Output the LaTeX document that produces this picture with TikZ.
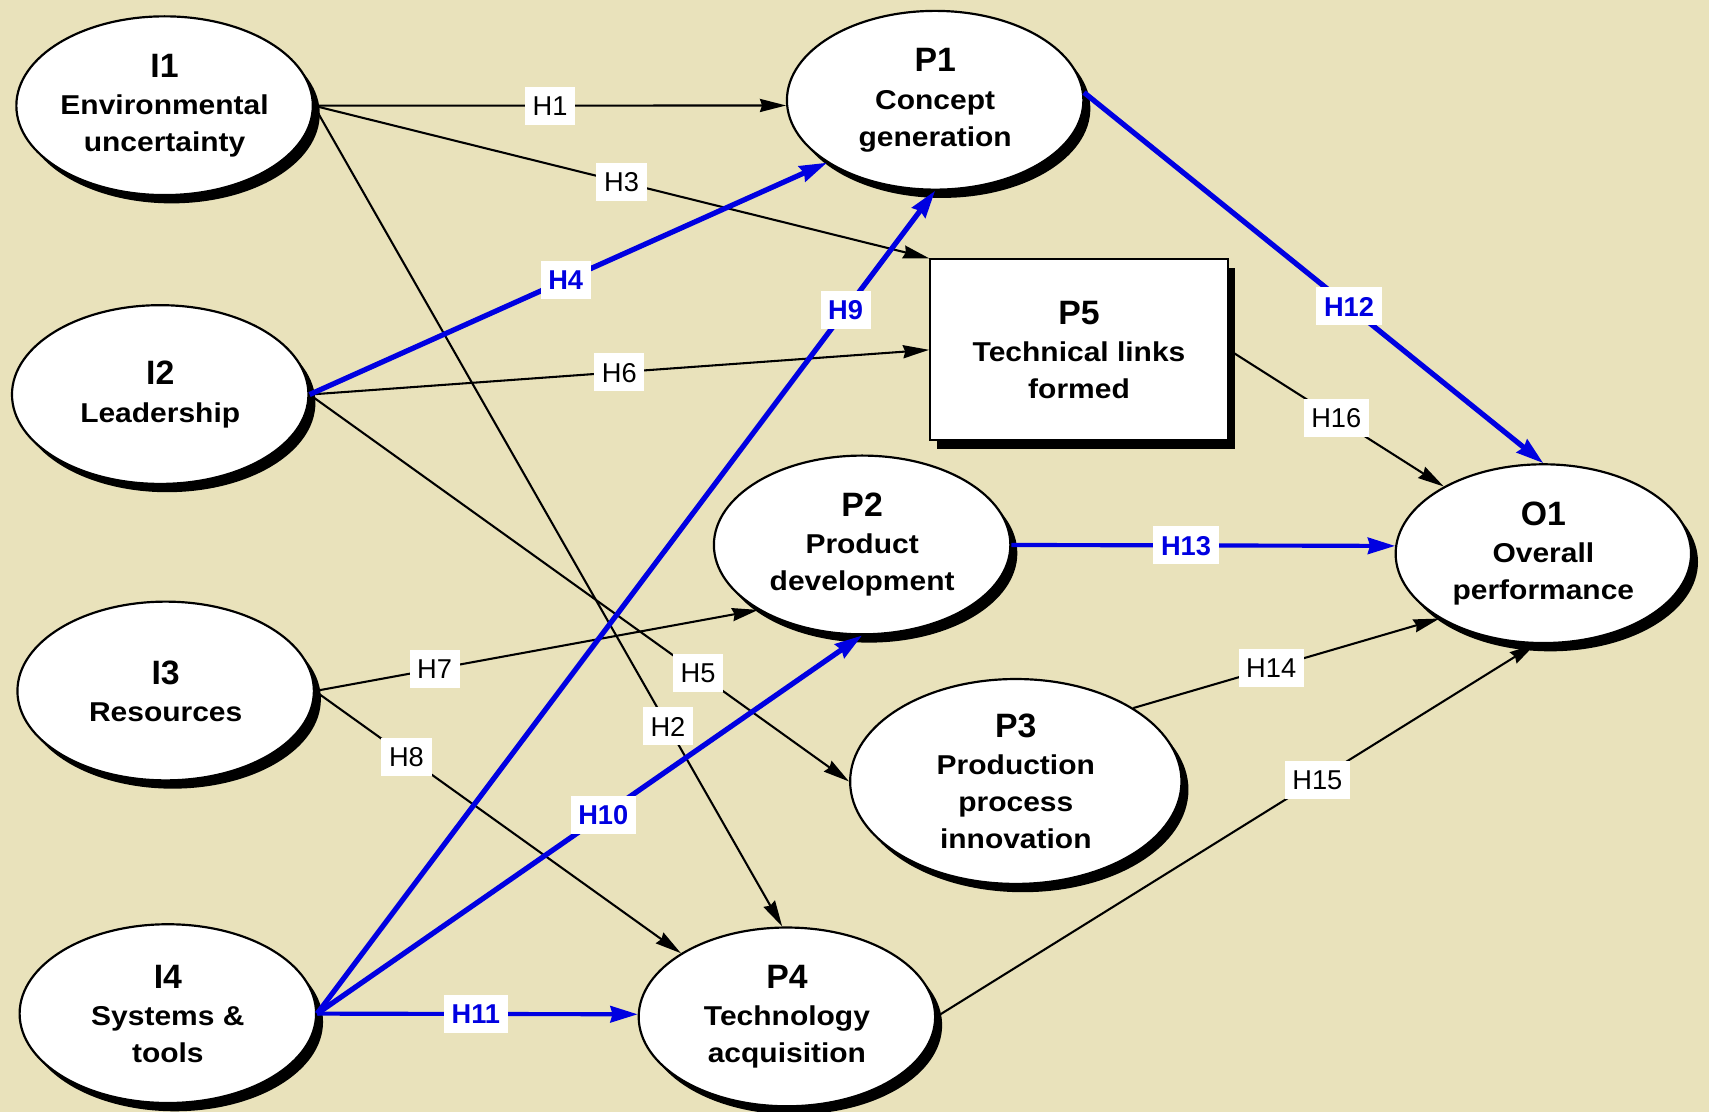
\documentclass[tikz,border=0pt]{standalone}
\usepackage{fontspec}
\setmainfont{Liberation Sans}
\newfontfamily\widefont[FakeStretch=1.1]{Liberation Sans}
\newfontfamily\plainfont{Liberation Sans}
\usetikzlibrary{shapes.geometric,arrows.meta,shadows}
\definecolor{paper}{RGB}{233,226,187}
\definecolor{hblue}{RGB}{0,0,225}

\tikzset{
  shadowed/.style={drop shadow={shadow xshift=3.2pt, shadow yshift=-3.8pt, fill=black, opacity=1}},
  construct/.style={ellipse, draw=black, line width=1pt, fill=white, inner sep=0pt,
    align=center, font=\widefont\bfseries\fontsize{12.5}{17}\selectfont, shadowed,
    minimum width=136pt, minimum height=82pt},
  boxconstruct/.style={rectangle, draw=black, line width=1pt, fill=white, inner sep=0pt,
    align=center, font=\widefont\bfseries\fontsize{12.5}{17}\selectfont, shadowed,
    minimum width=136.5pt, minimum height=83pt},
  plain/.style={draw=black, line width=0.95pt, -{Stealth[length=12pt,width=6pt,inset=1pt]}},
  strong/.style={draw=hblue, line width=2.4pt, -{Stealth[length=12.5pt,width=7.5pt,inset=1pt]}},
  medium/.style={strong, line width=1.9pt},
  hlab/.style={fill=white, inner xsep=3.5pt, inner ysep=4.2pt, text height=9pt, text depth=0pt,
    font=\fontsize{12.5}{15}\selectfont},
  hlabb/.style={hlab, text=hblue, font=\fontsize{12.5}{15}\selectfont\bfseries},
}
\newcommand{\ctitle}[1]{{\plainfont\bfseries\fontsize{15.5}{17}\selectfont #1}}

\begin{document}
\begin{tikzpicture}[x=0.5pt, y=-0.5pt]
  \fill[paper] (0,0) rectangle (1568,1020);
  \useasboundingbox (0,0) rectangle (1568,1020);

  % antecedent constructs
  \node[construct] (I1) at (151,97)  {\ctitle{I1}\\Environmental\\uncertainty};
  \node[construct] (I2) at (147,362) {\ctitle{I2}\\Leadership};
  \node[construct] (I3) at (152,634) {\ctitle{I3}\\Resources};
  \node[construct] (I4) at (154,930) {\ctitle{I4}\\Systems \&\\tools};

  % process constructs
  \node[construct] (P1) at (858,92)  {\ctitle{P1}\\Concept\\generation};
  \node[boxconstruct] (P5) at (990,321) {\ctitle{P5}\\Technical links\\formed};
  \node[construct] (P2) at (791,500) {\ctitle{P2}\\Product\\development};
  \node[construct, minimum width=152pt, minimum height=94pt] (P3) at (932,717)
       {\ctitle{P3}\\Production\\process\\innovation};
  \node[construct] (P4) at (722,933) {\ctitle{P4}\\Technology\\acquisition};

  % outcome
  \node[construct, minimum width=135.5pt] (O1) at (1416,508) {\ctitle{O1}\\Overall\\performance};

  % hypotheses (black)
  \draw[plain] (I1.east) -- node[hlab, pos=.5] {H1} (P1.182);
  \draw[plain] (I1.east) -- node[hlab, pos=.5] {H3} (P5.north west);
  \draw[plain] (I1.east) -- node[hlab, pos=.756] {H2} (P4.93);
  \draw[plain] (I2.east) -- node[hlab, pos=.5] {H6} (P5.west);
  \draw[plain] (I2.east) -- node[hlab, pos=.72] {H5} (P3.west);
  \draw[plain] (I3.east) -- node[hlab, pos=.27] {H7} (P2.212);
  \draw[plain] (I3.east) -- node[hlab, pos=.25] {H8} (P4.149);
  \draw[plain] (P5.east) -- node[hlab, pos=.5] {H16} (O1.146);
  \draw[plain] (P3.32) -- node[hlab, pos=.45] {H14} (O1.212);
  \draw[plain] (P4.east) -- node[hlab, pos=.636] {H15} (O1.265);

  % hypotheses (blue)
  \draw[strong] (I2.east) -- node[hlabb, pos=.495] {H4} (P1.210);
  \draw[strong] (I4.east) -- node[hlabb, pos=.855] {H9} (P1.south);
  \draw[strong] (I4.east) -- node[hlabb, pos=.525] {H10} (P2.south);
  \draw[medium] (I4.east) -- node[hlabb, pos=.495] {H11} (P4.179);
  \draw[strong] (P1.3) -- node[hlabb, pos=.577] {H12} (O1.north);
  \draw[medium] (P2.east) -- node[hlabb, pos=.455] {H13} (O1.177);
\end{tikzpicture}
\end{document}
